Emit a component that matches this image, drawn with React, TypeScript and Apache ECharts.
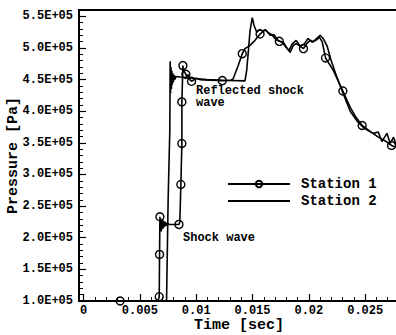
import React, { useEffect, useRef } from 'react';
import * as echarts from 'echarts';

const FONT = "'Liberation Mono', 'Courier New', 'DejaVu Sans Mono', monospace";

// Station 1 (line with circle symbols at marked points)
const station1Time = [
  0, 0.00325, 0.0066, 0.00672, 0.00675, 0.00678, 0.0069, 0.00697, 0.00704, 0.00711,
  0.00718, 0.00726, 0.00734, 0.00745, 0.0076, 0.00847, 0.00855, 0.00864, 0.00873, 0.00873,
  0.00882, 0.00885, 0.00909, 0.00915, 0.00929, 0.00944, 0.00959, 0.01, 0.01033, 0.01232,
  0.0131, 0.01329, 0.01374, 0.01409, 0.01433, 0.01478, 0.01522, 0.01567, 0.01611, 0.01641,
  0.01671, 0.01709, 0.01738, 0.01773, 0.01809, 0.01833, 0.01862, 0.01891, 0.01952, 0.01982,
  0.02011, 0.0204, 0.0207, 0.02093, 0.02118, 0.02148, 0.02216, 0.02302, 0.02367, 0.0242,
  0.02473, 0.02544, 0.02616, 0.02678, 0.02734, 0.02776,
];
const station1Pressure = [
  100000, 100000, 100000, 106800, 173700, 233100, 210000, 230000, 214000, 227000,
  217000, 225000, 219000, 223000, 221000, 221100, 225000, 284200, 349000, 414700,
  472100, 464700, 458400, 454000, 458000, 450000, 447300, 452000, 450000, 448400,
  449000, 451600, 472600, 491000, 499000, 504000, 512000, 522000, 529000, 524000,
  521000, 513000, 510500, 509000, 499000, 493000, 504000, 507000, 499000, 507000,
  512000, 510000, 513000, 517000, 510000, 484200, 465000, 432000, 406000, 390000,
  377400, 368000, 359000, 353000, 345800, 343000,
];
const station1Marked = [
  0, 1, 0, 1, 1, 1, 0, 0, 0, 0,
  0, 0, 0, 0, 0, 1, 0, 1, 1, 1,
  1, 0, 1, 0, 0, 0, 1, 0, 0, 1,
  0, 0, 0, 1, 0, 0, 0, 1, 0, 0,
  0, 0, 1, 0, 0, 0, 0, 0, 1, 0,
  0, 0, 0, 0, 0, 1, 0, 1, 0, 0,
  1, 0, 0, 0, 1, 0,
];

// Station 2 (plain line)
const station2Time = [
  0, 0.00737, 0.00751, 0.00766, 0.00769, 0.00772, 0.00776, 0.0078, 0.00784, 0.00788,
  0.00793, 0.00798, 0.00805, 0.00812, 0.0082, 0.00856, 0.0097, 0.01093, 0.01229, 0.01433,
  0.01448, 0.01463, 0.01478, 0.01498, 0.01513, 0.01537, 0.01562, 0.0159, 0.0162, 0.01656,
  0.01691, 0.01727, 0.01762, 0.01798, 0.01824, 0.01851, 0.01887, 0.01922, 0.01958, 0.01993,
  0.02029, 0.02064, 0.021, 0.02127, 0.02162, 0.02198, 0.02242, 0.02304, 0.02367, 0.0243,
  0.02491, 0.02571, 0.02616, 0.02648, 0.02693, 0.02722, 0.02752, 0.02776,
];
const station2Pressure = [
  100000, 100000, 260000, 370000, 479000, 428000, 470000, 435000, 464000, 442000,
  460000, 446000, 457000, 450000, 455000, 454000, 452000, 450000, 449000, 448000,
  464000, 495000, 527000, 548000, 536000, 525000, 529000, 527000, 528000, 520000,
  521000, 512000, 509000, 501000, 496000, 506000, 512000, 503000, 506000, 515000,
  509000, 514000, 520000, 515000, 503000, 480000, 457000, 428000, 400000, 384000,
  373000, 365000, 367000, 352000, 365000, 349000, 359000, 345000,
];

const xTickValues = [0, 0.005, 0.01, 0.015, 0.02, 0.025];
const xTickLabels = ['0', '0.005', '0.01', '0.015', '0.02', '0.025'];
const yTickValues = [100000, 150000, 200000, 250000, 300000, 350000, 400000, 450000, 500000, 550000];
const yTickLabels = ['1.0E+05', '1.5E+05', '2.0E+05', '2.5E+05', '3.0E+05', '3.5E+05', '4.0E+05', '4.5E+05', '5.0E+05', '5.5E+05'];

const X_MIN = -0.0004;
const X_MAX = 0.028;
const Y_MIN = 100000;
const Y_MAX = 560000;

function minorValues(start: number, end: number, step: number, majorStep: number): number[] {
  const out: number[] = [];
  const n = Math.round((end - start) / step);
  for (let i = 0; i <= n; i++) {
    const v = +(start + i * step).toFixed(6);
    const r = v / majorStep;
    if (Math.abs(r - Math.round(r)) > 1e-6) out.push(v);
  }
  return out;
}

const xMinor = minorValues(0, 0.028, 0.001, 0.005);
const yMinor = minorValues(100000, 550000, 10000, 50000);

function lookup(values: number[], labels: string[], v: number): string {
  for (let i = 0; i < values.length; i++) {
    if (Math.abs(values[i] - v) < Math.abs(values[i]) * 1e-6 + 1e-9) return labels[i];
  }
  return '';
}

export default function App() {
  const ref = useRef<HTMLDivElement>(null);
  useEffect(() => {
    if (!ref.current) return;
    const chart = echarts.init(ref.current, undefined, { renderer: 'svg' });
    const labelStyle = { color: '#000', fontFamily: FONT, fontWeight: 'bold' as const, fontSize: 12, lineHeight: 12 };
    const nameStyle = { color: '#000', fontFamily: FONT, fontWeight: 'bold' as const, fontSize: 15, lineHeight: 15 };
    const gridRect = { left: 79, top: 10, width: 320, height: 291, outerBoundsMode: 'none', containLabel: false };
    chart.setOption({
      animation: false,
      backgroundColor: '#fff',
      textStyle: { fontFamily: FONT },
      grid: [
        { ...gridRect, show: true, borderColor: '#000', borderWidth: 2, backgroundColor: 'transparent' },
        { ...gridRect, show: false },
      ],
      xAxis: [
        {
          gridIndex: 0, type: 'value', min: X_MIN, max: X_MAX,
          axisLine: { show: true, onZero: false, lineStyle: { color: '#000', width: 2 } },
          axisTick: { show: true, inside: true, length: 7, customValues: xTickValues, lineStyle: { color: '#000', width: 1.2 } },
          axisLabel: { customValues: xTickValues, margin: 4, formatter: (v: number) => lookup(xTickValues, xTickLabels, v), ...labelStyle },
          splitLine: { show: false },
          name: 'Time [sec]', nameLocation: 'middle', nameGap: 17, nameMoveOverlap: false, nameTextStyle: nameStyle,
        },
        {
          gridIndex: 1, type: 'value', min: X_MIN, max: X_MAX,
          axisLine: { show: false, onZero: false },
          axisTick: { show: true, inside: true, length: 4, customValues: xMinor, lineStyle: { color: '#000', width: 1 } },
          axisLabel: { show: false },
          splitLine: { show: false },
        },
      ],
      yAxis: [
        {
          gridIndex: 0, type: 'value', min: Y_MIN, max: Y_MAX,
          axisLine: { show: true, onZero: false, lineStyle: { color: '#000', width: 2 } },
          axisTick: { show: true, inside: true, length: 7, customValues: yTickValues, lineStyle: { color: '#000', width: 1.2 } },
          axisLabel: { customValues: yTickValues, margin: 6, formatter: (v: number) => lookup(yTickValues, yTickLabels, v), ...labelStyle },
          splitLine: { show: false },
          name: 'Pressure [Pa]', nameLocation: 'middle', nameGap: 58, nameMoveOverlap: false, nameTextStyle: nameStyle,
        },
        {
          gridIndex: 1, type: 'value', min: Y_MIN, max: Y_MAX,
          axisLine: { show: false, onZero: false },
          axisTick: { show: true, inside: true, length: 4, customValues: yMinor, lineStyle: { color: '#000', width: 1 } },
          axisLabel: { show: false },
          splitLine: { show: false },
        },
      ],
      legend: {
        orient: 'vertical', left: 227, top: 177, padding: 0, itemWidth: 62, itemHeight: 8, itemGap: 3,
        textStyle: { color: '#000', fontFamily: FONT, fontWeight: 'bold', fontSize: 14, lineHeight: 14, padding: [0, 0, 0, 6] },
        data: [
          { name: 'Station 1' },
          { name: 'Station 2', itemStyle: { color: 'rgba(0,0,0,0)', borderColor: 'rgba(0,0,0,0)', borderWidth: 0 } },
        ],
      },
      series: [
        {
          name: 'Station 1', type: 'line', xAxisIndex: 0, yAxisIndex: 0,
          data: station1Time.map((t, i) => [t, station1Pressure[i]]),
          symbol: 'circle', showSymbol: true,
          symbolSize: (_v: any, p: any) => (station1Marked[p.dataIndex] ? 8 : 0),
          itemStyle: { color: 'rgba(0,0,0,0)', borderColor: '#000', borderWidth: 1.4 },
          lineStyle: { color: '#000', width: 1.6 },
          z: 3,
        },
        {
          name: 'Station 2', type: 'line', xAxisIndex: 0, yAxisIndex: 0,
          data: station2Time.map((t, i) => [t, station2Pressure[i]]),
          symbol: 'none', showSymbol: false,
          itemStyle: { color: '#000' },
          lineStyle: { color: '#000', width: 1.6 },
          z: 2,
        },
      ],
      graphic: [
        {
          type: 'text', x: 196, y: 84.5, z: 10,
          style: { text: 'Reflected shock\nwave', fontFamily: FONT, fontWeight: 'bold', fontSize: 12, fill: '#000', lineHeight: 12.5, verticalAlign: 'top' },
        },
        {
          type: 'text', x: 183, y: 231.5, z: 10,
          style: { text: 'Shock wave', fontFamily: FONT, fontWeight: 'bold', fontSize: 12, fill: '#000', lineHeight: 12.5, verticalAlign: 'top' },
        },
      ],
    });
    return () => chart.dispose();
  }, []);
  return <div ref={ref} style={{ position: 'fixed', left: 0, top: 0, width: 396, height: 335 }} />;
}
